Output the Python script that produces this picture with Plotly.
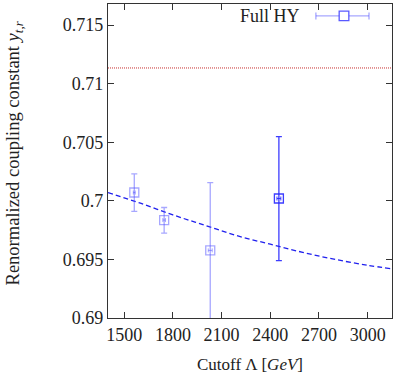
import plotly.graph_objects as go

# data
cutoff = [1562, 1746, 2030, 2453]
y_tr = [0.70071, 0.69836, 0.69577, 0.70020]
y_err_plus = [0.00159, 0.00107, 0.00579, 0.00528]
y_err_minus = [0.00161, 0.00111, 0.00700, 0.00531]
x_err = [6, 8, 12, 12]

fit_x = [1400, 1600, 1800, 2000, 2200, 2400, 2600, 2800, 3000, 3150]
fit_y = [0.7007, 0.6998, 0.6988, 0.6979, 0.6970, 0.6963, 0.6956, 0.6950, 0.6945, 0.6942]

ref_level = 0.71134
x_range = [1400, 3150]
y_range = [0.69, 0.7168]
x_ticks = [1500, 1800, 2100, 2400, 2700, 3000]
y_ticks = [0.69, 0.695, 0.7, 0.705, 0.71, 0.715]
y_ticklabels = ["0.69", "0.695", "0.7", "0.705", "0.71", "0.715"]

FONT = "Liberation Serif"
FS = 18
TXT = "#222"
LIGHT = "rgba(80,80,255,0.5)"
DARK = "rgba(40,40,255,0.9)"

fig = go.Figure()

# reference level (dotted red)
fig.add_trace(go.Scatter(x=x_range, y=[ref_level, ref_level], mode="lines",
                         line=dict(color="#c83030", width=1, dash="1px,1px"),
                         showlegend=False, hoverinfo="skip"))

# fit curve
fig.add_trace(go.Scatter(x=fit_x, y=fit_y, mode="lines",
                         line=dict(color="#2020ee", width=1.3, dash="5px,3px", shape="spline"),
                         showlegend=False, hoverinfo="skip"))


def pts(idx, color):
    return go.Scatter(
        x=[cutoff[i] for i in idx], y=[y_tr[i] for i in idx], mode="markers",
        marker=dict(symbol="square-open", size=9, color=color, line=dict(width=1.3)),
        error_y=dict(type="data", symmetric=False,
                     array=[y_err_plus[i] for i in idx],
                     arrayminus=[y_err_minus[i] for i in idx],
                     color=color, thickness=1.3, width=3),
        error_x=dict(type="data", array=[x_err[i] for i in idx],
                     color=color, thickness=1, width=2),
        showlegend=False, hoverinfo="skip",
    )


fig.add_trace(pts([0, 1, 2], LIGHT))
fig.add_trace(pts([3], DARK))

# legend drawn by hand (gnuplot style: text left, sample right)
lx0, lx1, lxm, ly = 0.732, 0.919, 0.831, 0.962
shapes = [
    dict(type="line", xref="paper", yref="paper", x0=lx0, x1=lx1, y0=ly, y1=ly,
         line=dict(color=LIGHT, width=1.3)),
    dict(type="line", xref="paper", yref="paper", x0=lx0, x1=lx0, y0=ly - 0.011, y1=ly + 0.011,
         line=dict(color=LIGHT, width=1.3)),
    dict(type="line", xref="paper", yref="paper", x0=lx1, x1=lx1, y0=ly - 0.011, y1=ly + 0.011,
         line=dict(color=LIGHT, width=1.3)),
    dict(type="rect", xref="paper", yref="paper", x0=lxm - 0.017, x1=lxm + 0.017,
         y0=ly - 0.015, y1=ly + 0.015, fillcolor="white",
         line=dict(color="rgba(60,60,255,0.85)", width=1.3)),
]

fig.update_layout(
    width=406, height=376,
    margin=dict(l=108, r=14, t=4, b=58),
    paper_bgcolor="white", plot_bgcolor="white",
    font=dict(family=FONT, size=FS, color=TXT),
    shapes=shapes,
    annotations=[
        dict(xref="paper", yref="paper", x=0.683, y=ly, text="Full HY",
             showarrow=False, xanchor="right", yanchor="middle",
             font=dict(family=FONT, size=FS, color=TXT)),
        # y title sits a little above the plot centre in the reference
        dict(xref="paper", yref="paper", x=-0.33, y=0.525, textangle=-90,
             text="Renormalized coupling constant <i>y</i><sub><i>t,r</i></sub>",
             showarrow=False, xanchor="center", yanchor="middle",
             font=dict(family=FONT, size=18.5, color=TXT)),
    ],
)

axis_common = dict(showgrid=False, zeroline=False, showline=True, linecolor="#333",
                   linewidth=1.3, mirror="ticks", ticks="inside", ticklen=6,
                   tickcolor="#333", tickwidth=1, automargin=False)

fig.update_xaxes(range=x_range, tickvals=x_ticks,
                 title=dict(text="Cutoff Λ [<i>GeV</i>]", standoff=14,
                            font=dict(family=FONT, size=17, color=TXT)),
                 **axis_common)
fig.update_yaxes(range=y_range, tickvals=y_ticks, ticktext=y_ticklabels, **axis_common)

# page body margin would shift the figure by 8px
fig.write_html("out.html", config={"displayModeBar": False},
               post_script="document.body.style.margin='0px';")
